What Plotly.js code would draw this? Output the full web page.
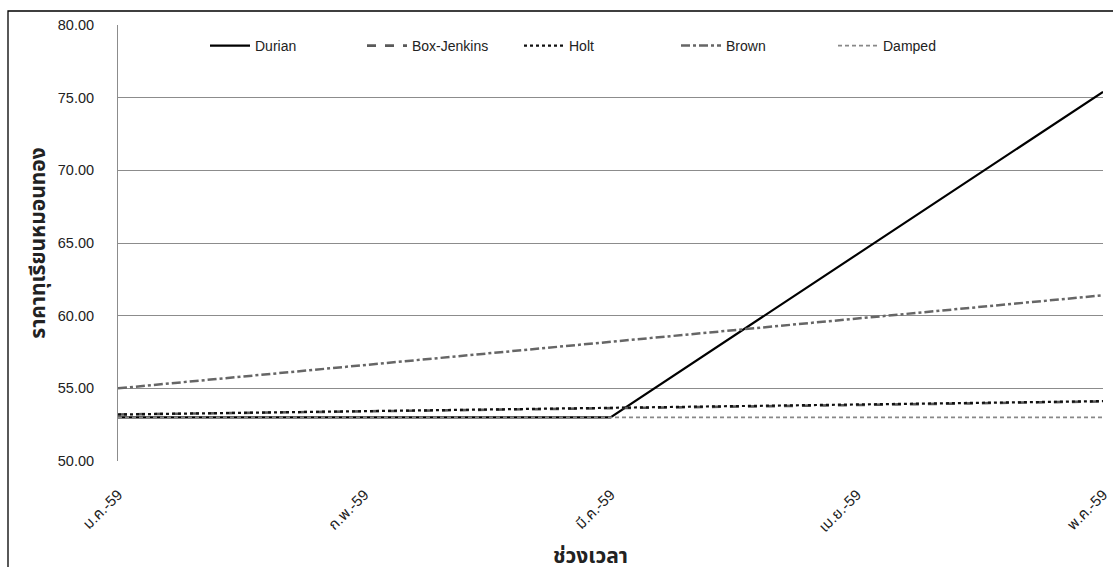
<!DOCTYPE html>
<html>
<head>
<meta charset="utf-8">
<script src="https://cdn.plot.ly/plotly-3.0.1.min.js"></script>
<style>html,body{margin:0;padding:0;background:#fff;}#chart{width:1113px;height:567px;}</style>
</head>
<body>
<div id="chart"></div>
<script>
const months = ["ม.ค.-59", "ก.พ.-59", "มี.ค.-59", "เม.ย.-59", "พ.ค.-59"];
const durian = [53.0, 53.0, 53.0, 64.2, 75.4];
const boxJenkins = [53.2, 53.4, 53.6, 53.85, 54.1];
const holt = [53.2, 53.42, 53.65, 53.88, 54.12];
const brown = [55.0, 56.6, 58.2, 59.8, 61.4];
const damped = [53.0, 53.0, 53.0, 53.0, 53.0];
const yTicks = [50, 55, 60, 65, 70, 75, 80];

const W = 1113, H = 567;
const M = {l: 118, r: 10, t: 25, b: 106};
const pw = W - M.l - M.r, ph = H - M.t - M.b;
const thaiFont = "Liberation Sans, Arial, 'Noto Sans Thai', Tahoma, sans-serif";

const traces = [
  {name: "Durian", y: durian, line: {color: "#000000", width: 2.2, dash: "solid"}},
  {name: "Box-Jenkins", y: boxJenkins, line: {color: "#5a5a5a", width: 2.6, dash: "dash"}},
  {name: "Holt", y: holt, line: {color: "#111111", width: 2.2, dash: "dot"}},
  {name: "Brown", y: brown, line: {color: "#666666", width: 2.5, dash: "dashdot"}},
  {name: "Damped", y: damped, line: {color: "#888888", width: 1.6, dash: "4px,3px"}}
].map(t => Object.assign({x: months, type: "scatter", mode: "lines", hoverinfo: "skip"}, t));

const layout = {
  width: W, height: H,
  margin: M,
  paper_bgcolor: "#ffffff",
  plot_bgcolor: "#ffffff",
  font: {family: thaiFont, color: "#222222", size: 13},
  showlegend: true,
  legend: {
    orientation: "h", x: (205 - M.l) / pw, xanchor: "left",
    y: (461 - 46) / ph, yanchor: "middle",
    bgcolor: "rgba(0,0,0,0)", font: {size: 14, color: "#222"},
    entrywidth: 102, entrywidthmode: "pixels", itemwidth: 40
  },
  xaxis: {
    type: "category", range: [0, 4], showgrid: false, zeroline: false,
    showline: false, ticks: "outside", ticklen: 18, tickcolor: "rgba(0,0,0,0)",
    tickangle: -45, tickfont: {size: 15, color: "#222"},
    automargin: false
  },
  yaxis: {
    range: [50, 80], tickvals: yTicks, tickformat: ".2f",
    showgrid: true, gridcolor: "#8c8c8c", gridwidth: 1,
    showline: true, linecolor: "#8c8c8c", linewidth: 1, zeroline: false,
    ticks: "outside", ticklen: 20, tickcolor: "rgba(0,0,0,0)",
    tickfont: {size: 14.5, color: "#222"},
    title: {text: "<b>ราคาทุเรียนหมอนทอง</b>", font: {size: 21, color: "#222"}, standoff: 6},
    automargin: false
  },
  annotations: [
    {text: "<b>ช่วงเวลา</b>", xref: "paper", yref: "paper",
     x: (590 - M.l) / pw, y: (461 - 555) / ph, xanchor: "center", yanchor: "middle",
     showarrow: false, font: {size: 21, color: "#222"}}
  ],
  shapes: [
    {type: "rect", xref: "paper", yref: "paper",
     x0: (8 - M.l) / pw, x1: (1125 - M.l) / pw,
     y0: (461 - 580) / ph, y1: (461 - 11) / ph,
     line: {color: "#000", width: 1.3}, fillcolor: "rgba(0,0,0,0)", layer: "below"}
  ]
};

Plotly.newPlot("chart", traces, layout, {displayModeBar: false, staticPlot: true});
</script>
</body>
</html>
